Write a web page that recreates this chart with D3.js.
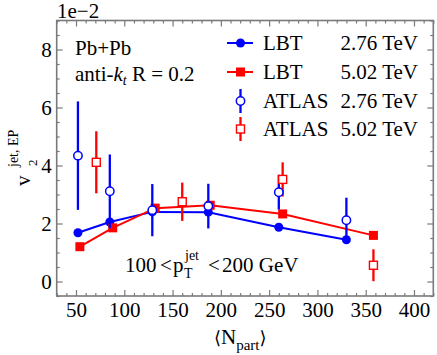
<!DOCTYPE html>
<html><head><meta charset="utf-8">
<script src="https://cdn.jsdelivr.net/npm/d3@7"></script>
<style>body{margin:0;background:#fff}svg{display:block}</style>
</head><body><svg id="c" width="437" height="355"></svg>
<script>
// ---- data (values in units of 1e-2) ----
const lbt276X = [52, 85, 129, 187, 260, 330];
const lbt276Y = [1.68, 2.05, 2.40, 2.39, 1.87, 1.44];
const lbt502X = [54, 88, 132, 189, 264, 358];
const lbt502Y = [1.20, 1.85, 2.53, 2.63, 2.33, 1.59];
const atlas276X = [52, 85, 129, 187, 260, 330];
const atlas276Y = [4.34, 3.11, 2.46, 2.60, 3.08, 2.11];
const atlas276Err = [1.87, 1.27, 0.90, 0.77, 0.60, 0.78];
const atlas502X = [71, 160, 264, 358];
const atlas502Y = [4.11, 2.75, 3.52, 0.56];
const atlas502Err = [1.07, 0.66, 0.59, 0.55];
const xTicks = [50, 100, 150, 200, 250, 300, 350, 400];
const yTicks = [0, 2, 4, 6, 8];
const legendLabels = ["LBT", "LBT", "ATLAS", "ATLAS"];
const legendEnergies = ["2.76 TeV", "5.02 TeV", "2.76 TeV", "5.02 TeV"];

const BLUE = "#0000ff", RED = "#ff0000", FRAME = "#7a7a7a";
const FONT = "'Liberation Serif'";
const L = 56.7, R = 433.3, T = 20.5, B = 296;
const svg = d3.select("#c");
const x = d3.scaleLinear().domain([30, 420]).range([L, R]);
const y = d3.scaleLinear().domain([-0.5, 9]).range([B, T]);

function txt(parent, size) {
  return parent.append("text").style("font-family", FONT).style("font-size", size + "px").attr("fill", "#000");
}

// minor ticks
const xMinor = d3.range(30, 421, 10).filter(v => v % 50 !== 0);
const yMinor = d3.range(-0.5, 9.01, 0.5).filter(v => Math.abs(v % 2) > 1e-9);
function axisG(axis, tx, ty) {
  const g = svg.append("g").attr("transform", `translate(${tx},${ty})`).call(axis);
  g.attr("font-family", null).attr("font-size", null);
  g.select(".domain").remove();
  g.selectAll(".tick line").attr("stroke", FRAME).attr("stroke-width", 1.2);
  g.selectAll(".tick text").style("font-family", FONT).style("font-size", "21px").attr("fill", "#000");
  return g;
}
axisG(d3.axisBottom(x).tickValues(xMinor).tickSize(-3).tickFormat(""), 0, B);
axisG(d3.axisTop(x).tickValues(xMinor).tickSize(-3).tickFormat(""), 0, T);
axisG(d3.axisLeft(y).tickValues(yMinor).tickSize(-3).tickFormat(""), L, 0);
axisG(d3.axisRight(y).tickValues(yMinor).tickSize(-3).tickFormat(""), R, 0);
const gxb = axisG(d3.axisBottom(x).tickValues(xTicks).tickSize(-6).tickPadding(0), 0, B);
gxb.selectAll(".tick text").attr("y", 21).attr("dy", null);
axisG(d3.axisTop(x).tickValues(xTicks).tickSize(-6).tickFormat(""), 0, T);
const gyl = axisG(d3.axisLeft(y).tickValues(yTicks).tickSize(-6), L, 0);
gyl.selectAll(".tick text").attr("x", -5).attr("dy", "0.34em");
axisG(d3.axisRight(y).tickValues(yTicks).tickSize(-6).tickFormat(""), R, 0);

// frame
svg.append("rect").attr("x", L).attr("y", T).attr("width", R - L).attr("height", B - T)
  .attr("fill", "none").attr("stroke", FRAME).attr("stroke-width", 1.6);

txt(svg, 21).attr("x", 57).attr("y", 18).text("1e\u22122");

// LBT lines
const line = d3.line().x(d => x(d[0])).y(d => y(d[1]));
const lbt276 = d3.zip(lbt276X, lbt276Y), lbt502 = d3.zip(lbt502X, lbt502Y);
svg.append("path").datum(lbt276).attr("d", line).attr("fill", "none").attr("stroke", BLUE).attr("stroke-width", 2);
svg.append("path").datum(lbt502).attr("d", line).attr("fill", "none").attr("stroke", RED).attr("stroke-width", 2);
svg.selectAll(".lb").data(lbt276).join("circle").attr("cx", d => x(d[0])).attr("cy", d => y(d[1]))
  .attr("r", 4.5).attr("fill", BLUE);
svg.selectAll(".lr").data(lbt502).join("rect").attr("x", d => x(d[0]) - 4.5).attr("y", d => y(d[1]) - 4.5)
  .attr("width", 9).attr("height", 9).attr("fill", RED);

// ATLAS data
const a276 = d3.zip(atlas276X, atlas276Y, atlas276Err), a502 = d3.zip(atlas502X, atlas502Y, atlas502Err);
function errBars(data, col) {
  svg.append("g").selectAll("line").data(data).join("line")
    .attr("x1", d => x(d[0])).attr("x2", d => x(d[0]))
    .attr("y1", d => y(d[1] - d[2])).attr("y2", d => y(d[1] + d[2]))
    .attr("stroke", col).attr("stroke-width", 2.3);
}
errBars(a502, RED);
errBars(a276, BLUE);
svg.append("g").selectAll("rect").data(a502).join("rect")
  .attr("x", d => x(d[0]) - 4).attr("y", d => y(d[1]) - 4).attr("width", 8).attr("height", 8)
  .attr("fill", "#fff").attr("stroke", RED).attr("stroke-width", 1.4);
svg.append("g").selectAll("circle").data(a276).join("circle")
  .attr("cx", d => x(d[0])).attr("cy", d => y(d[1])).attr("r", 4.2)
  .attr("fill", "#fff").attr("stroke", BLUE).attr("stroke-width", 1.5);

// legend
const rows = [43, 72, 101, 129];
const lx0 = 227, lx1 = 253, lxc = 240.5;
[0, 1].forEach(i => {
  const col = i === 0 ? BLUE : RED;
  svg.append("line").attr("x1", lx0).attr("x2", lx1).attr("y1", rows[i]).attr("y2", rows[i])
    .attr("stroke", col).attr("stroke-width", 2);
});
svg.append("circle").attr("cx", lxc).attr("cy", rows[0]).attr("r", 4.5).attr("fill", BLUE);
svg.append("rect").attr("x", lxc - 4.5).attr("y", rows[1] - 4.5).attr("width", 9).attr("height", 9).attr("fill", RED);
[2, 3].forEach(i => {
  const col = i === 2 ? BLUE : RED;
  svg.append("line").attr("x1", lxc).attr("x2", lxc).attr("y1", rows[i] - 12).attr("y2", rows[i] + 12)
    .attr("stroke", col).attr("stroke-width", 2.3);
});
svg.append("circle").attr("cx", lxc).attr("cy", rows[2]).attr("r", 4.2).attr("fill", "#fff").attr("stroke", BLUE).attr("stroke-width", 1.5);
svg.append("rect").attr("x", lxc - 4).attr("y", rows[3] - 4).attr("width", 8).attr("height", 8).attr("fill", "#fff").attr("stroke", RED).attr("stroke-width", 1.4);
rows.forEach((ry, i) => {
  txt(svg, 21).attr("x", 263).attr("y", ry + 7).text(legendLabels[i]);
  txt(svg, 21).attr("x", 418).attr("y", ry + 7).attr("text-anchor", "end").text(legendEnergies[i]);
});

// annotations
txt(svg, 21).attr("x", 75).attr("y", 55).text("Pb+Pb");
const t2 = txt(svg, 21).attr("x", 75).attr("y", 81);
t2.append("tspan").text("anti-");
t2.append("tspan").style("font-style", "italic").text("k");
t2.append("tspan").attr("dy", 4).style("font-size", "14px").style("font-style", "italic").text("t");
t2.append("tspan").attr("dy", -4).text(" R = 0.2");

const t3 = txt(svg, 21).attr("y", 272);
t3.append("tspan").attr("x", 125).text("100");
t3.append("tspan").attr("x", 160).text("<");
t3.append("tspan").attr("x", 173).text("p");
t3.append("tspan").attr("x", 184).attr("dy", 6).style("font-size", "14px").text("T");
t3.append("tspan").attr("x", 185).attr("dy", -18).style("font-size", "14px").text("jet");
t3.append("tspan").attr("x", 208).attr("dy", 12).text("<");
t3.append("tspan").attr("x", 222).text("200 GeV");

// axis titles
const xt = txt(svg, 21).attr("x", 214).attr("y", 344);
xt.append("tspan").style("font-family", "'DejaVu Serif'").style("font-size", "18px").text("\u27E8");
xt.append("tspan").text("N");
xt.append("tspan").attr("dy", 6).style("font-size", "15px").text("part");
xt.append("tspan").attr("dy", -6).style("font-family", "'DejaVu Serif'").style("font-size", "18px").text("\u27E9");

txt(svg, 21).attr("transform", "translate(30,186) rotate(-90)").text("v");
txt(svg, 13).attr("transform", "translate(36.5,166) rotate(-90)").text("2");
txt(svg, 14).attr("transform", "translate(17.5,167) rotate(-90)").text("jet, EP");
</script></body></html>
